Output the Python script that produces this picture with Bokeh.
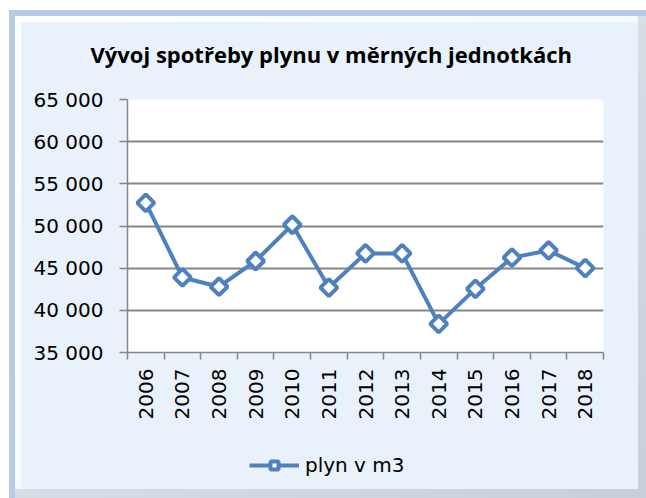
from bokeh.plotting import figure
from bokeh.layouts import column
from bokeh.models import (Range1d, FixedTicker, Title, Legend, LegendItem,
                          LinearAxis, Grid)
from bokeh.embed import file_html
from bokeh.resources import INLINE
import math

years = ["2006", "2007", "2008", "2009", "2010", "2011", "2012",
         "2013", "2014", "2015", "2016", "2017", "2018"]
plyn_m3 = [52750, 43900, 42800, 45850, 50150, 42700, 46750,
           46750, 38400, 42550, 46250, 47100, 45000]
y_ticks = [35000, 40000, 45000, 50000, 55000, 60000, 65000]
title_text = "Vývoj spotřeby plynu v měrných jednotkách"
series_name = "plyn v m3"

W, H_MAIN, H_LEG = 646, 438, 60
BG = "#E9F1FB"
GRID = "#868686"
BLUE = "#4F81BD"
FONT = "DejaVu Sans"

xpos = [i + 0.5 for i in range(len(years))]

p = figure(width=W, height=H_MAIN, output_backend="svg", toolbar_location=None,
           x_range=Range1d(0, len(years)), y_range=Range1d(y_ticks[0], y_ticks[-1]),
           x_axis_type=None, y_axis_type=None,
           min_border_left=127, min_border_right=43, min_border_top=99,
           min_border_bottom=86)
p.background_fill_color = "white"
p.border_fill_color = None
p.outline_line_color = None

# y axis
yax = LinearAxis(ticker=FixedTicker(ticks=y_ticks),
                 major_label_overrides={v: f"{v:,}".replace(",", " ") for v in y_ticks})
yax.axis_line_color = GRID
yax.axis_line_width = 1.5
yax.major_tick_line_color = GRID
yax.major_tick_line_width = 1.5
yax.major_tick_in = 0
yax.major_tick_out = 8
yax.minor_tick_line_color = None
yax.major_label_text_font = FONT
yax.major_label_text_font_size = "20px"
yax.major_label_text_color = "black"
yax.major_label_standoff = 16
p.add_layout(yax, "left")

# x axis (ticks between categories)
xax = LinearAxis(ticker=FixedTicker(ticks=xpos, minor_ticks=list(range(len(years) + 1))),
                 major_label_overrides={x: y for x, y in zip(xpos, years)})
xax.axis_line_color = GRID
xax.axis_line_width = 1.5
xax.major_tick_line_color = None
xax.minor_tick_line_color = GRID
xax.minor_tick_line_width = 1.5
xax.minor_tick_in = 0
xax.minor_tick_out = 7
xax.major_label_orientation = math.pi / 2
xax.major_label_text_font = FONT
xax.major_label_text_font_size = "20px"
xax.major_label_text_color = "black"
xax.major_label_standoff = 9
p.add_layout(xax, "below")

g = Grid(dimension=1, ticker=FixedTicker(ticks=y_ticks), grid_line_color=GRID,
         grid_line_width=2)
p.add_layout(g)

line_style = dict(line_color=BLUE, line_width=4)
marker_style = dict(marker="square", angle=math.pi / 4, size=12,
                    line_color=BLUE, line_width=4, fill_color="white")

p.line(xpos, plyn_m3, **line_style)
p.scatter(xpos, plyn_m3, **marker_style)

title = Title(text=title_text, align="left", text_font="Open Sans",
              text_font_style="bold", text_font_size="22px", text_color="black",
              standoff=61, offset=-37)
p.add_layout(title, "above")

# legend strip below the chart
q = figure(width=W, height=H_LEG, output_backend="svg", toolbar_location=None,
           x_range=Range1d(0, W), y_range=Range1d(0, H_LEG),
           x_axis_type=None, y_axis_type=None,
           min_border_left=0, min_border_right=0, min_border_top=0,
           min_border_bottom=0)
q.background_fill_color = None
q.border_fill_color = None
q.outline_line_color = None
q.xgrid.visible = False
q.ygrid.visible = False
proxy_line = q.line([-50, -40], [-50, -50], **line_style)
proxy_mark = q.scatter([-50], [-50], **marker_style)
legend = Legend(items=[LegendItem(label=series_name, renderers=[proxy_line, proxy_mark])],
                location=(122, 21), orientation="horizontal",
                background_fill_alpha=0, border_line_color=None,
                label_text_font=FONT, label_text_font_size="20px",
                label_text_color="black",
                glyph_width=50, glyph_height=20, label_standoff=6,
                margin=0, padding=10)
q.add_layout(legend, "center")

bg_layers = ", ".join([
    f"linear-gradient({BG}, {BG}) 21px 22px / 617px 467px no-repeat",
    "linear-gradient(to bottom right, #FFFFFF, #EEF4FC) 15px 16px / 623px 473px no-repeat",
    "linear-gradient(to bottom right, #E6ECF3, #C7CFD9) 15px 16px / 631px 482px no-repeat",
    "linear-gradient(#B7CBE4, #B7CBE4) 9px 10px / 637px 488px no-repeat",
])
layout = column(p, q, spacing=0,
                styles={"background": bg_layers, "background-color": "white"})

open("out.html", "w").write(file_html(layout, INLINE))
